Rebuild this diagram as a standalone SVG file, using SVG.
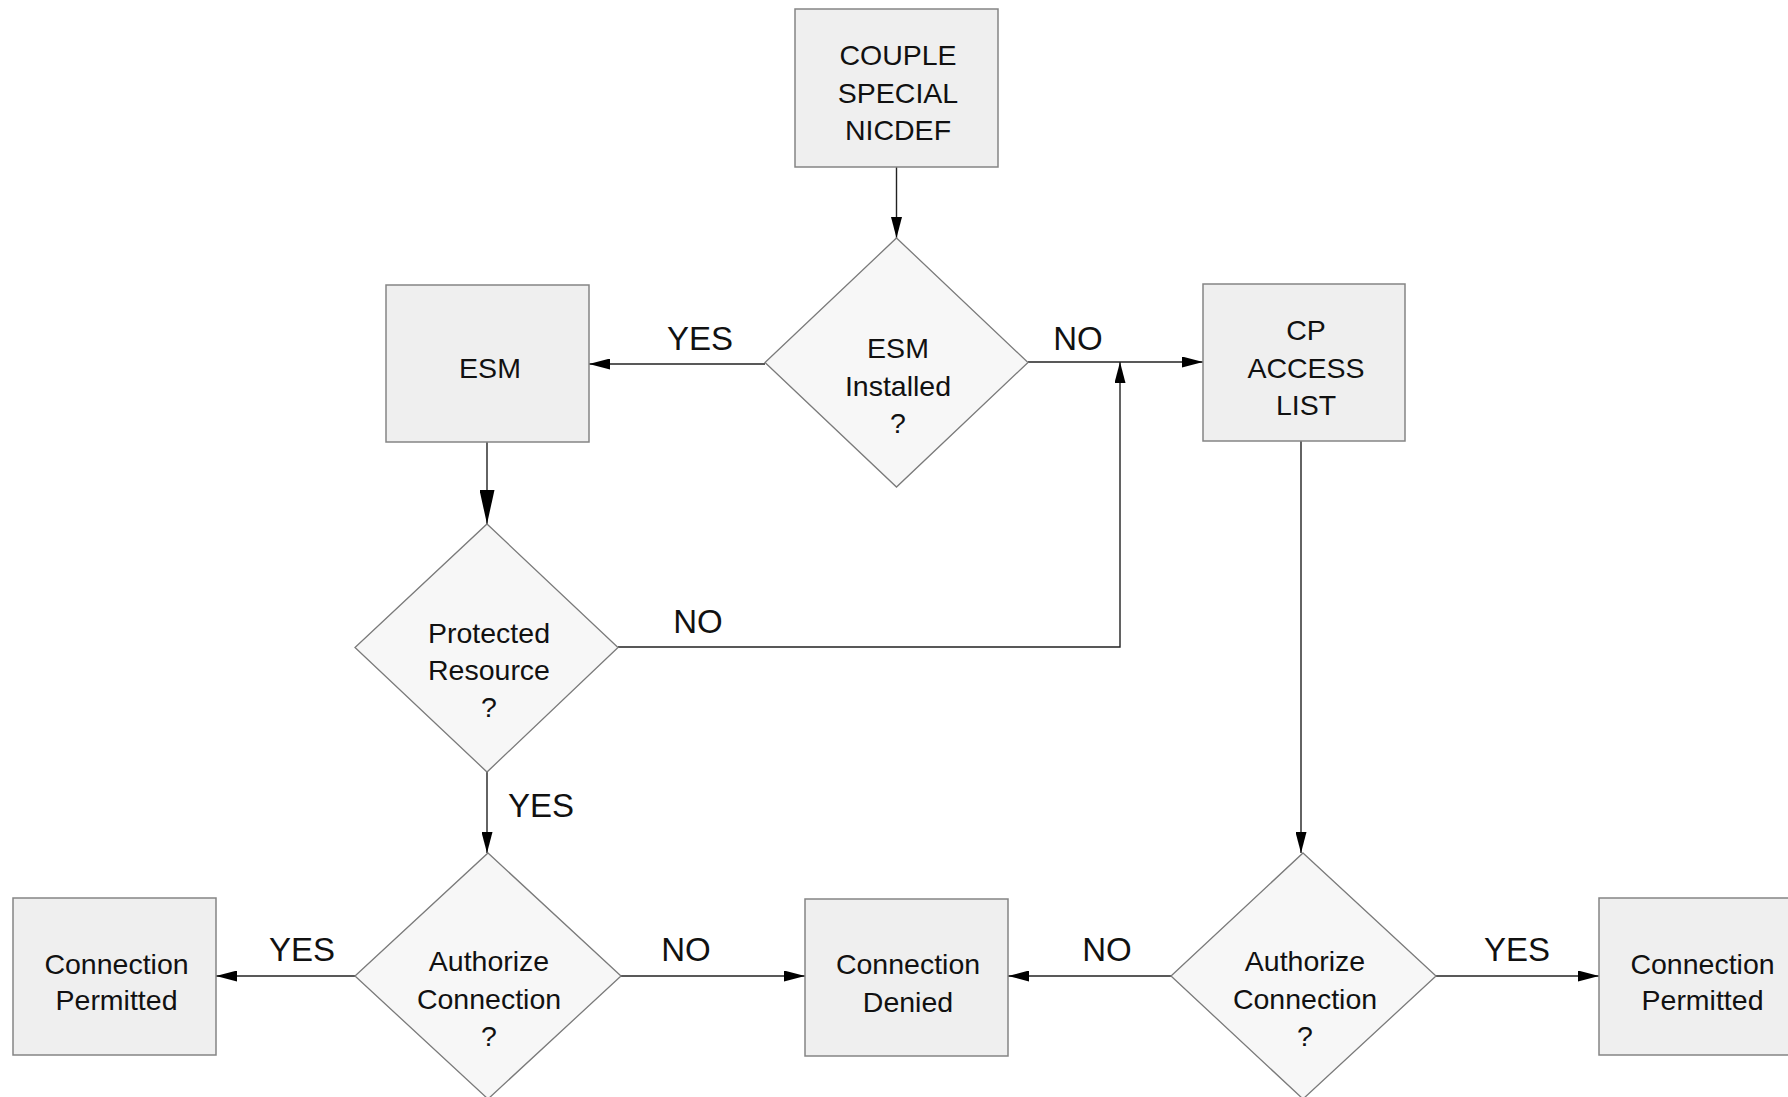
<svg xmlns="http://www.w3.org/2000/svg" width="1788" height="1097" viewBox="0 0 1788 1097">
<style>
.box{fill:#efefef;stroke:#858585;stroke-width:1.5}
.dia{fill:#f7f7f7;stroke:#7a7a7a;stroke-width:1.3}
.t{font-family:"Liberation Sans",Arial,sans-serif;font-size:28.5px;fill:#111;text-anchor:middle}
.lbl{font-family:"Liberation Sans",Arial,sans-serif;font-size:33px;fill:#111;text-anchor:middle}
.c{fill:none;stroke:#222;stroke-width:1.4}
</style>
<defs>
<marker id="a" markerUnits="userSpaceOnUse" markerWidth="21" markerHeight="11" refX="21" refY="5.5" orient="auto">
<path d="M0,0 L21,5.5 L0,11 z" fill="#000"/>
</marker>
<marker id="b" markerUnits="userSpaceOnUse" markerWidth="34" markerHeight="15" refX="34" refY="7.5" orient="auto">
<path d="M0,0 L34,7.5 L0,15 z" fill="#000"/>
</marker>
</defs>
<g id="connectors">
<line class="c" x1="896.5" y1="167" x2="896.5" y2="238" marker-end="url(#a)"/>
<line class="c" x1="765" y1="364" x2="589" y2="364" marker-end="url(#a)"/>
<line class="c" x1="1028" y1="362" x2="1203" y2="362" marker-end="url(#a)"/>
<line class="c" x1="487" y1="442" x2="487" y2="524" marker-end="url(#b)"/>
<polyline class="c" points="618,647 1120,647 1120,362" marker-end="url(#a)"/>
<line class="c" x1="1301" y1="441" x2="1301" y2="853" marker-end="url(#a)"/>
<line class="c" x1="487" y1="772" x2="487" y2="853" marker-end="url(#a)"/>
<line class="c" x1="355" y1="976" x2="216" y2="976" marker-end="url(#a)"/>
<line class="c" x1="621" y1="976" x2="805" y2="976" marker-end="url(#a)"/>
<line class="c" x1="1172" y1="976" x2="1008" y2="976" marker-end="url(#a)"/>
<line class="c" x1="1436" y1="976" x2="1599" y2="976" marker-end="url(#a)"/>
<text class="lbl" x="700" y="350">YES</text>
<text class="lbl" x="1078" y="350">NO</text>
<text class="lbl" x="698" y="633">NO</text>
<text class="lbl" x="541" y="817">YES</text>
<text class="lbl" x="302" y="961">YES</text>
<text class="lbl" x="686" y="961">NO</text>
<text class="lbl" x="1107" y="961">NO</text>
<text class="lbl" x="1517" y="961">YES</text>
</g>
<g id="couple">
<rect class="box" x="795" y="9" width="203" height="158"/>
<text class="t" x="898" y="65">COUPLE</text>
<text class="t" x="898" y="102.5">SPECIAL</text>
<text class="t" x="898" y="140">NICDEF</text>
</g>
<g id="esm-installed">
<polygon class="dia" points="896.5,238 1028,362.5 896.5,487 765,362.5"/>
<text class="t" x="898" y="358">ESM</text>
<text class="t" x="898" y="396">Installed</text>
<text class="t" x="898" y="433">?</text>
</g>
<g id="esm">
<rect class="box" x="386" y="285" width="203" height="157"/>
<text class="t" x="490" y="378">ESM</text>
</g>
<g id="cp-access-list">
<rect class="box" x="1203" y="284" width="202" height="157"/>
<text class="t" x="1306" y="340">CP</text>
<text class="t" x="1306" y="377.5">ACCESS</text>
<text class="t" x="1306" y="415">LIST</text>
</g>
<g id="protected">
<polygon class="dia" points="487,524 618,647.5 487,772 355,647.5"/>
<text class="t" x="489" y="643">Protected</text>
<text class="t" x="489" y="680">Resource</text>
<text class="t" x="489" y="717">?</text>
</g>
<g id="authorize-left">
<polygon class="dia" points="488,853 621,976 488,1099 355,976"/>
<text class="t" x="489" y="971">Authorize</text>
<text class="t" x="489" y="1009">Connection</text>
<text class="t" x="489" y="1046">?</text>
</g>
<g id="authorize-right">
<polygon class="dia" points="1303,853 1436,976 1303,1099 1171,976"/>
<text class="t" x="1305" y="971">Authorize</text>
<text class="t" x="1305" y="1009">Connection</text>
<text class="t" x="1305" y="1046">?</text>
</g>
<g id="permitted-left">
<rect class="box" x="13" y="898" width="203" height="157"/>
<text class="t" x="116.5" y="974">Connection</text>
<text class="t" x="116.5" y="1010">Permitted</text>
</g>
<g id="denied">
<rect class="box" x="805" y="899" width="203" height="157"/>
<text class="t" x="908" y="974">Connection</text>
<text class="t" x="908" y="1012">Denied</text>
</g>
<g id="permitted-right">
<rect class="box" x="1599" y="898" width="203" height="157"/>
<text class="t" x="1702.5" y="974">Connection</text>
<text class="t" x="1702.5" y="1010">Permitted</text>
</g>
</svg>
